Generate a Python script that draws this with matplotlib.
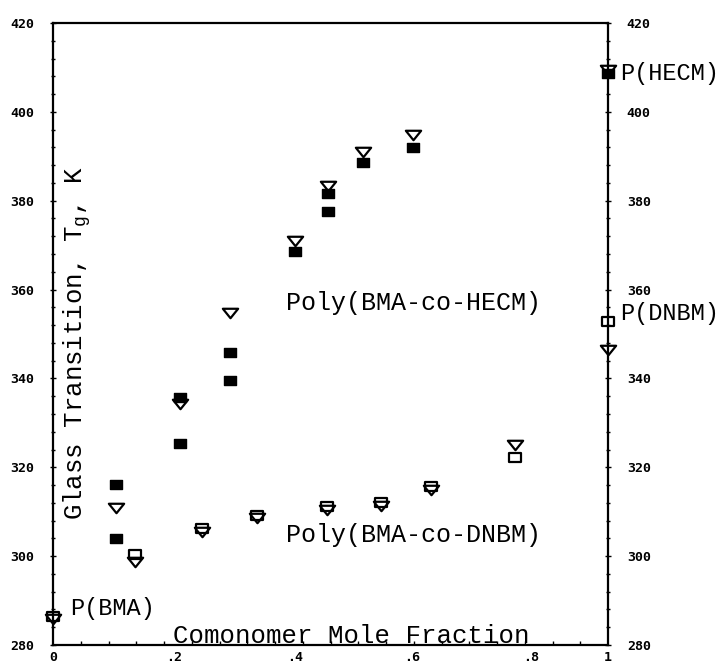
import numpy as np
import matplotlib.pyplot as plt
from matplotlib.path import Path
from matplotlib.ticker import MultipleLocator

# Tg data (mole fraction of comonomer, Tg in K)
hecm_sq_x = [0.114, 0.114, 0.229, 0.229, 0.319, 0.319, 0.436, 0.495, 0.495, 0.559, 0.649, 1.0]
hecm_sq_y = [316.2, 304.1, 335.8, 325.5, 346.0, 339.6, 368.7, 381.7, 377.7, 388.7, 392.1, 408.7]
hecm_tri_x = [0.114, 0.229, 0.319, 0.436, 0.495, 0.559, 0.649, 1.0]
hecm_tri_y = [310.8, 334.2, 354.7, 371.0, 383.2, 391.0, 394.8, 409.5]

dnbm_sq_x = [0.0, 0.148, 0.268, 0.367, 0.493, 0.591, 0.681, 0.832, 1.0]
dnbm_sq_y = [286.6, 300.5, 306.3, 309.2, 311.2, 312.1, 315.7, 322.3, 353.0]
dnbm_tri_x = [0.0, 0.148, 0.268, 0.367, 0.493, 0.591, 0.681, 0.832, 1.0]
dnbm_tri_y = [285.8, 298.7, 305.4, 308.6, 310.4, 311.3, 315.0, 325.0, 346.5]

# tick labels (placed where the original plotter put them)
xtick_pos = [0.0, 0.218, 0.436, 0.647, 0.862, 1.0]
xtick_lab = ['0', '.2', '.4', '.6', '.8', '1']
ytick_vals = [280, 300, 320, 340, 360, 380, 400, 420]

txt_font = 'Liberation Mono'
tick_font = 'DejaVu Sans Mono'

# wide rectangle and flat inverted triangle markers
rect = Path([(-1, -0.72), (1, -0.72), (1, 0.72), (-1, 0.72), (-1, -0.72)],
            [Path.MOVETO, Path.LINETO, Path.LINETO, Path.LINETO, Path.CLOSEPOLY])
tri = Path([(-1, 0.62), (1, 0.62), (0, -0.62), (-1, 0.62)],
           [Path.MOVETO, Path.LINETO, Path.LINETO, Path.CLOSEPOLY])

fig = plt.figure(figsize=(7.25, 6.66), dpi=100)
ax = fig.add_axes([53 / 725, 21 / 666, 555 / 725, 622 / 666])

ax.plot(dnbm_tri_x, dnbm_tri_y, linestyle='none', marker=tri, ms=11, mfc='none',
        mec='black', mew=1.6, clip_on=False)
ax.plot(dnbm_sq_x, dnbm_sq_y, linestyle='none', marker=rect, ms=9, mfc='none',
        mec='black', mew=1.6, clip_on=False)
ax.plot(hecm_tri_x, hecm_tri_y, linestyle='none', marker=tri, ms=11, mfc='white',
        mec='black', mew=1.6, clip_on=False)
ax.plot(hecm_sq_x, hecm_sq_y, linestyle='none', marker=rect, ms=9, mfc='black',
        mec='black', mew=1, clip_on=False)

ax.set_xlim(0, 1)
ax.set_ylim(280, 420)

for s in ax.spines.values():
    s.set_linewidth(1.6)

ax.set_yticks(ytick_vals)
ax.yaxis.set_minor_locator(MultipleLocator(4))
ax.tick_params(axis='y', which='both', left=True, right=True, labelleft=True,
               labelright=True, direction='inout', width=1)
ax.tick_params(axis='y', which='major', length=5, pad=11)
ax.tick_params(axis='y', which='minor', length=3)

ax.set_xticks(xtick_pos)
ax.set_xticklabels(xtick_lab)
ax.xaxis.set_minor_locator(MultipleLocator(0.05))
ax.tick_params(axis='x', which='major', length=0, pad=4)
ax.tick_params(axis='x', which='minor', direction='in', length=3, width=1)

for t in ax.yaxis.get_major_ticks() + ax.xaxis.get_major_ticks():
    for lab in (t.label1, t.label2):
        lab.set_fontfamily(tick_font)
        lab.set_fontweight('bold')
        lab.set_fontsize(9.5)

# labels drawn inside the frame, like the original
ax.text(0.043, 0.486, 'Glass Transition, T$\\mathregular{_g}$, K', transform=ax.transAxes,
        rotation=90, ha='center', va='center', fontsize=18.5, family=txt_font)
ax.text(0.537, 280.4, 'Comonomer Mole Fraction', ha='center', va='baseline',
        fontsize=18.5, family=txt_font)
ax.text(0.42, 357.0, 'Poly(BMA-co-HECM)', ha='left', va='center', fontsize=18, family=txt_font)
ax.text(0.42, 304.8, 'Poly(BMA-co-DNBM)', ha='left', va='center', fontsize=18, family=txt_font)
ax.text(0.031, 288.3, 'P(BMA)', ha='left', va='center', fontsize=17, family=txt_font)
ax.text(1.022, 408.7, 'P(HECM)', ha='left', va='center', fontsize=17, family=txt_font, clip_on=False)
ax.text(1.022, 354.7, 'P(DNBM)', ha='left', va='center', fontsize=17, family=txt_font, clip_on=False)

fig.savefig('out.png', dpi=100)
